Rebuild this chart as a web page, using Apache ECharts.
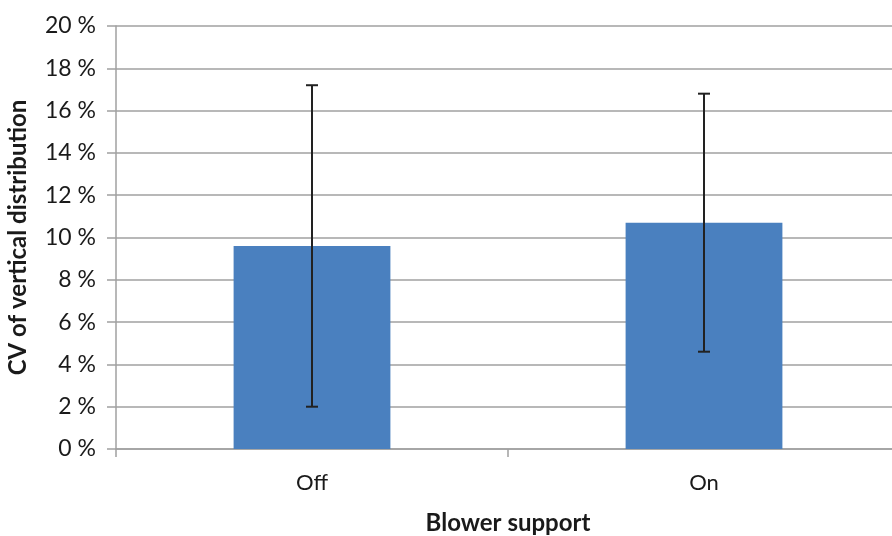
<!DOCTYPE html>
<html><head><meta charset="utf-8">
<script src="https://cdn.jsdelivr.net/npm/echarts@6/dist/echarts.min.js"></script>
<style>html,body{margin:0;padding:0;background:#fff}#c{width:892px;height:536px}</style>
</head><body><div id="c"></div>
<script>
var categories = ['Off', 'On'];
var cvMean = [9.6, 10.7];
var cvErrLow = [2.0, 4.6];
var cvErrHigh = [17.2, 16.8];
var yTicks = [0, 2, 4, 6, 8, 10, 12, 14, 16, 18, 20];

var FONT = 'Lato';
var chart = echarts.init(document.getElementById('c'));
chart.setOption({
  animation: false,
  backgroundColor: '#fff',
  grid: { left: 116, top: 26, right: -8, bottom: 87, containLabel: false, outerBoundsMode: 'none' },
  xAxis: {
    type: 'category', data: categories,
    name: 'Blower support', nameLocation: 'middle', nameGap: 62,
    nameTextStyle: { fontFamily: FONT, fontSize: 24, fontWeight: 'bold', color: '#1a1a1a' },
    axisLine: { lineStyle: { color: '#a0a0a0', width: 1.5 } },
    axisTick: { show: true, length: 8, lineStyle: { color: '#a0a0a0', width: 1.5 } },
    axisLabel: { fontFamily: FONT, fontSize: 22, color: '#1a1a1a', margin: 23 }
  },
  yAxis: {
    type: 'value', min: yTicks[0], max: yTicks[yTicks.length - 1], interval: 2,
    name: 'CV of vertical distribution', nameLocation: 'middle', nameGap: 86,
    nameTextStyle: { fontFamily: FONT, fontSize: 24, fontWeight: 'bold', color: '#1a1a1a' },
    axisLine: { show: true, onZero: false, lineStyle: { color: '#a0a0a0', width: 1.5 } },
    axisTick: { show: true, length: 9, lineStyle: { color: '#a0a0a0', width: 1.5 } },
    axisLabel: { fontFamily: FONT, fontSize: 23, color: '#1a1a1a', margin: 20, formatter: '{value} %' },
    splitLine: { lineStyle: { color: '#a0a0a0', width: 1.5 } }
  },
  series: [
    {
      type: 'bar', data: cvMean, barWidth: '40%',
      itemStyle: { color: '#4a80bf' }, z: 2
    },
    {
      type: 'custom', z: 5,
      data: categories.map(function (c, i) { return [i, cvErrLow[i], cvErrHigh[i]]; }),
      renderItem: function (params, api) {
        var lo = api.coord([api.value(0), api.value(1)]);
        var hi = api.coord([api.value(0), api.value(2)]);
        var hw = 6;
        var st = { stroke: '#222', lineWidth: 2 };
        return { type: 'group', children: [
          { type: 'line', shape: { x1: hi[0], y1: hi[1], x2: lo[0], y2: lo[1] }, style: st },
          { type: 'line', shape: { x1: hi[0] - hw, y1: hi[1], x2: hi[0] + hw, y2: hi[1] }, style: st },
          { type: 'line', shape: { x1: lo[0] - hw, y1: lo[1], x2: lo[0] + hw, y2: lo[1] }, style: st }
        ]};
      }
    }
  ]
});
</script></body></html>
